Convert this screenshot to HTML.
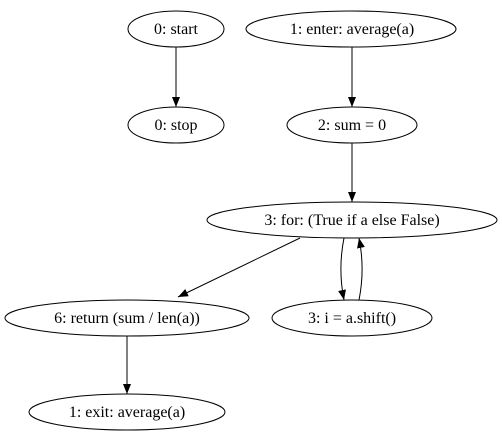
<!DOCTYPE html>
<html><head><meta charset="utf-8"><style>
html,body{margin:0;padding:0;background:#fff;}
svg{display:block;}
text{font-family:"Liberation Serif",serif;font-size:16px;fill:#000;}
</style></head><body>
<svg width="502" height="443" viewBox="0 0 502 443" xmlns="http://www.w3.org/2000/svg">
<defs><marker id="a" markerWidth="10" markerHeight="8" refX="10" refY="4" orient="auto" markerUnits="userSpaceOnUse"><path d="M0,0 L10,4 L0,8 Z" fill="#000"/></marker></defs>
<g fill="none" stroke="#000" stroke-width="1">
<ellipse cx="176" cy="29" rx="48" ry="18"/>
<ellipse cx="176" cy="125" rx="48" ry="18"/>
<ellipse cx="351" cy="29" rx="105" ry="18"/>
<ellipse cx="352" cy="125" rx="65" ry="18"/>
<ellipse cx="352" cy="220" rx="145" ry="18"/>
<ellipse cx="127" cy="318" rx="122" ry="18"/>
<ellipse cx="352" cy="318" rx="80" ry="18"/>
<ellipse cx="127" cy="412" rx="98" ry="18"/>
<line x1="176" y1="47" x2="176" y2="107" marker-end="url(#a)"/>
<line x1="352" y1="47" x2="352" y2="107" marker-end="url(#a)"/>
<line x1="352" y1="143" x2="352" y2="202" marker-end="url(#a)"/>
<line x1="300" y1="238" x2="178" y2="297" marker-end="url(#a)"/>
<path d="M344,238 C340,258 340,280 344,300" marker-end="url(#a)"/>
<path d="M359,300 C363,280 363,258 359,238" marker-end="url(#a)"/>
<line x1="127" y1="336" x2="127" y2="394" marker-end="url(#a)"/>
</g>
<g text-anchor="middle">
<text x="176" y="34">0: start</text>
<text x="176" y="130">0: stop</text>
<text x="352" y="34">1: enter: average(a)</text>
<text x="352" y="130">2: sum = 0</text>
<text x="352" y="225">3: for: (True if a else False)</text>
<text x="127" y="323">6: return (sum / len(a))</text>
<text x="352" y="323">3: i = a.shift()</text>
<text x="127" y="417">1: exit: average(a)</text>
</g>
</svg>
</body></html>
